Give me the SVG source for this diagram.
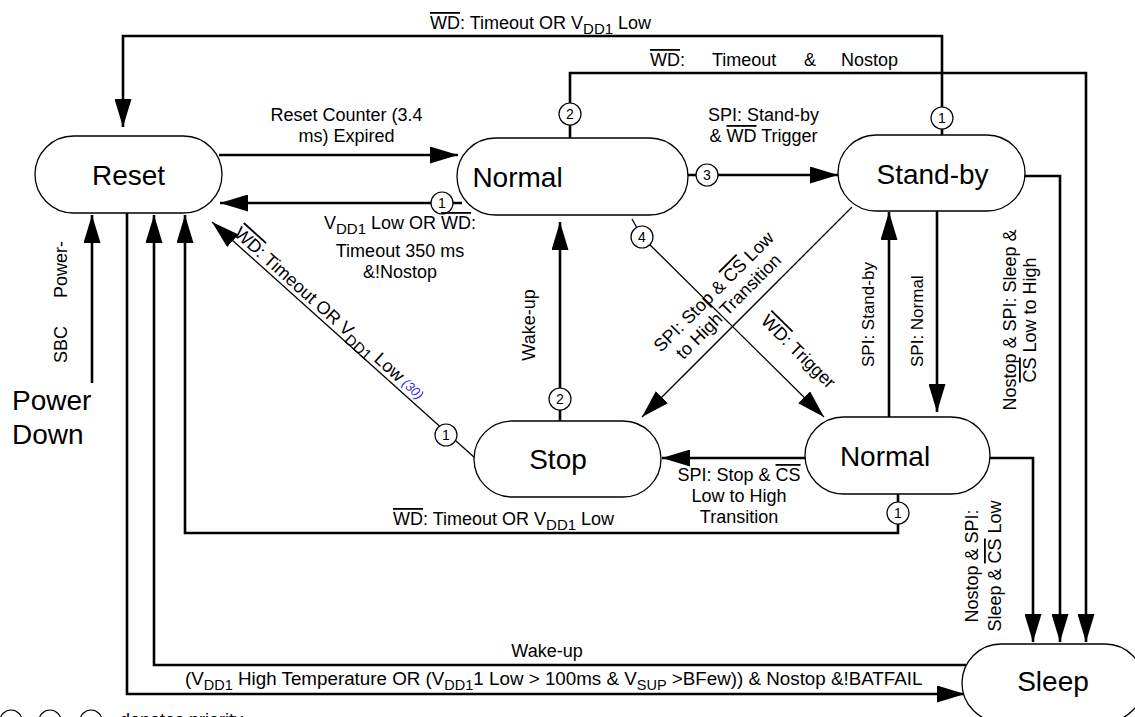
<svg xmlns="http://www.w3.org/2000/svg" width="1135" height="717" viewBox="0 0 1135 717">
<style>
text{font-family:"Liberation Sans",Arial,Helvetica,sans-serif;fill:#000}
.n rect{fill:#fff;stroke:#000;stroke-width:1.3}
.n text{font-size:28px;text-anchor:middle}
.l{font-size:18px}
.m{text-anchor:middle}
.s{font-size:15px}
.o{text-decoration:overline}
.c{fill:none;stroke:#000;stroke-width:2.6}
.d{fill:none;stroke:#000;stroke-width:1.3}
.p circle{fill:#fff;stroke:#000;stroke-width:1.2}
.p text{font-size:14px;text-anchor:middle}
.blue{font-size:13px;font-style:italic;fill:#2a2aff}
</style>
<defs>
<marker id="ah" markerUnits="userSpaceOnUse" markerWidth="28" markerHeight="17" refX="28" refY="8.5" orient="auto"><path d="M0,0 L28,8.5 L0,17 z" fill="#000"/></marker>
</defs>

<g id="connectors">
<path class="c" d="M942,135 V36 H123 V127" marker-end="url(#ah)"/>
<path class="c" d="M570,138 V73 H1086 V642" marker-end="url(#ah)"/>
<path class="c" d="M688,175 H838" marker-end="url(#ah)"/>
<path class="c" d="M219,155 H458" marker-end="url(#ah)"/>
<path class="c" d="M462,203 H220" marker-end="url(#ah)"/>
<path class="d" d="M475,458 L212,222" marker-end="url(#ah)"/>
<path class="d" d="M632,219 L642,237 L824,417" marker-end="url(#ah)"/>
<path class="d" d="M852,207 L642,417" marker-end="url(#ah)"/>
<path class="c" d="M560,421 V222" marker-end="url(#ah)"/>
<path class="c" d="M805,458 H662" marker-end="url(#ah)"/>
<path class="c" d="M898,494 V533 H185 V215" marker-end="url(#ah)"/>
<path class="c" d="M889,417 V212" marker-end="url(#ah)"/>
<path class="c" d="M937,211 V412" marker-end="url(#ah)"/>
<path class="c" d="M1025,176 H1060 V642" marker-end="url(#ah)"/>
<path class="c" d="M990,458 H1033 V642" marker-end="url(#ah)"/>
<path class="c" d="M966,665 H154 V215" marker-end="url(#ah)"/>
<path class="c" d="M127,213 V694 H965" marker-end="url(#ah)"/>
<path class="c" d="M92,383 V215" marker-end="url(#ah)"/>
</g>

<g id="reset" class="n"><rect x="35" y="136" width="187" height="77" rx="38.5"/><text x="128.5" y="185">Reset</text></g>
<g id="normal-top" class="n"><rect x="457" y="138" width="231" height="77" rx="38.5"/><text x="517.5" y="187">Normal</text></g>
<g id="standby" class="n"><rect x="838" y="135" width="187" height="76" rx="38"/><text x="932.5" y="183.5">Stand-by</text></g>
<g id="stop" class="n"><rect x="474" y="421" width="187" height="76" rx="38"/><text x="558" y="469">Stop</text></g>
<g id="normal-bottom" class="n"><rect x="805" y="417" width="185" height="77" rx="38.5"/><text x="885" y="466">Normal</text></g>
<g id="sleep" class="n"><rect x="962" y="644" width="182" height="78" rx="39"/><text x="1053" y="690.5">Sleep</text></g>
<g id="power-down"><text x="12" y="410" font-size="28">Power</text><text x="12" y="444" font-size="28">Down</text></g>

<g id="priorities" class="p">
<circle cx="942" cy="118" r="11"/><text x="942" y="123">1</text>
<circle cx="570" cy="114" r="11"/><text x="570" y="119">2</text>
<circle cx="707" cy="175" r="11"/><text x="707" y="180">3</text>
<circle cx="442" cy="203" r="11"/><text x="442" y="208">1</text>
<circle cx="446" cy="435" r="11"/><text x="446" y="440">1</text>
<circle cx="642" cy="237" r="11"/><text x="642" y="242">4</text>
<circle cx="560" cy="399" r="11"/><text x="560" y="404">2</text>
<circle cx="898" cy="513" r="11"/><text x="898" y="518">1</text>
</g>

<g id="legend" class="p">
<circle cx="11" cy="721" r="11"/>
<circle cx="50" cy="721" r="11"/>
<circle cx="91" cy="721" r="11"/>
<text class="l" x="120" y="726" style="text-anchor:start;font-size:18px">denotes priority</text>
</g>

<g id="labels">
<text class="l" x="430" y="29"><tspan class="o">WD</tspan>: Timeout OR V<tspan class="s" dy="5">DD1</tspan><tspan dy="-5"> Low</tspan></text>
<text class="l" y="66"><tspan x="650" class="o">WD</tspan><tspan>: </tspan><tspan x="712">Timeout </tspan><tspan x="804">&amp; </tspan><tspan x="841">Nostop</tspan></text>
<text class="l m" x="346.5" y="120.5">Reset Counter (3.4</text>
<text class="l m" x="346.5" y="142">ms) Expired</text>
<text class="l m" x="763.5" y="121">SPI: Stand-by</text>
<text class="l m" x="763.5" y="142">&amp; <tspan class="o">WD</tspan> Trigger</text>
<text class="l m" x="400" y="229">V<tspan class="s" dy="5">DD1</tspan><tspan dy="-5"> Low OR </tspan><tspan class="o">WD</tspan>:</text>
<text class="l m" x="400" y="256.5">Timeout 350 ms</text>
<text class="l m" x="400" y="278">&amp;!Nostop</text>
<text class="l" transform="translate(233,235) rotate(41.9)"><tspan class="o">WD</tspan>: Timeout OR V<tspan class="s" dy="5">DD1</tspan><tspan dy="-5"> Low</tspan><tspan class="blue" dx="4" dy="-1">(30)</tspan></text>
<text class="l" transform="translate(760,322) rotate(44.7)"><tspan class="o">WD</tspan>: Trigger</text>
<g transform="translate(718,296) rotate(-45)">
<text class="l m" x="0" y="0">SPI: Stop &amp; <tspan class="o">CS</tspan> Low</text>
<text class="l m" x="0" y="21">to High Transition</text>
</g>
<text class="l" transform="translate(67,363) rotate(-90)"><tspan x="0">SBC</tspan><tspan x="65">Power-</tspan></text>
<text class="l m" transform="translate(535,325) rotate(-90)">Wake-up</text>
<text class="l" style="font-size:17px" transform="translate(874,367) rotate(-90)">SPI: Stand-by</text>
<text class="l" style="font-size:17px" transform="translate(923,367) rotate(-90)">SPI: Normal</text>
<g transform="translate(1016,320) rotate(-90)">
<text class="l m" x="0" y="0">Nostop &amp; SPI: Sleep &amp;</text>
<text class="l m" x="0" y="20"><tspan class="o">CS</tspan> Low to High</text>
</g>
<g transform="translate(978,566) rotate(-90)">
<text class="l m" x="0" y="0">Nostop &amp; SPI:</text>
<text class="l m" x="0" y="23">Sleep &amp; <tspan class="o">CS</tspan> Low</text>
</g>
<text class="l m" x="739" y="481">SPI: Stop &amp; <tspan class="o">CS</tspan></text>
<text class="l m" x="739" y="502">Low to High</text>
<text class="l m" x="739" y="523">Transition</text>
<text class="l" x="393" y="525"><tspan class="o">WD</tspan>: Timeout OR V<tspan class="s" dy="5">DD1</tspan><tspan dy="-5"> Low</tspan></text>
<text class="l m" x="547" y="657">Wake-up</text>
<text x="185" y="685" style="font-size:18.8px">(V<tspan style="font-size:14.5px" dy="5">DD1</tspan><tspan dy="-5"> High Temperature OR (V</tspan><tspan style="font-size:14.5px" dy="5">DD1</tspan><tspan dy="-5">1 Low &gt; 100ms &amp; V</tspan><tspan style="font-size:14.5px" dy="5">SUP</tspan><tspan dy="-5"> &gt;BFew)) &amp; Nostop &amp;!BATFAIL</tspan></text>
</g>
</svg>
